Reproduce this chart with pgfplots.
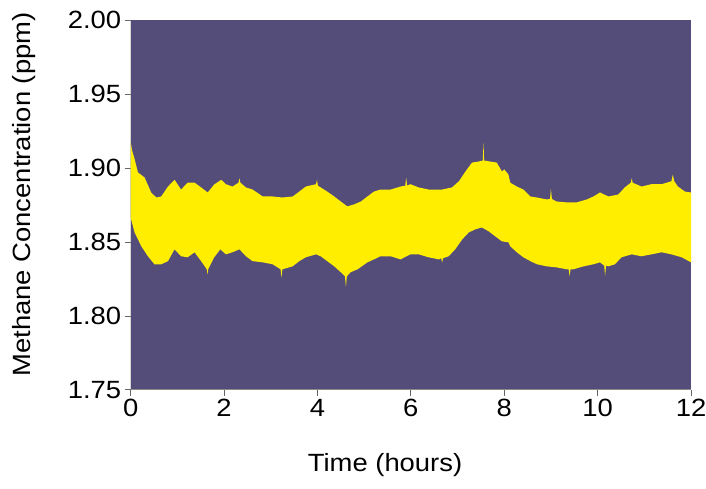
\documentclass[border=0pt]{standalone}
\usepackage{fontspec}
\setmainfont{Liberation Sans}[FakeStretch=1.1]
\usepackage{pgfplots}
\pgfplotsset{compat=1.18}
\definecolor{bg}{RGB}{84,77,122}
\definecolor{yel}{RGB}{255,238,0}
\begin{document}
\begin{tikzpicture}[font=\fontsize{25bp}{30bp}\selectfont]
\begin{axis}[name=ax,
  width=562bp, height=371bp, scale only axis,
  xmin=0, xmax=12, ymin=1.75, ymax=2.00,
  xtick={0,2,4,6,8,10,12},
  ytick={1.75,1.80,1.85,1.90,1.95,2.00},
  xtick pos=left, ytick pos=left,
  /pgf/number format/assume math mode=true,
  yticklabel style={/pgf/number format/.cd, fixed, fixed zerofill, precision=2},
  axis background/.style={fill=bg},
  axis line style={draw=none},
  tick align=outside, major tick length=6bp,
  tick style={draw=black!60, line width=0.8pt},
  xlabel={Time (hours)},
  ylabel={Methane Concentration (ppm)},
  xlabel style={at={(axis description cs:0.454,0)}, anchor=base, yshift=-82bp},
  ylabel style={at={(axis description cs:-0.1904,0.528)}, anchor=center},
]
\addplot[fill=yel, draw=none] coordinates {
(0.00,1.918) (0.03,1.912) (0.085,1.906) (0.157,1.897) (0.30,1.8935) (0.44,1.8834) (0.55,1.880) (0.655,1.8807) (0.80,1.8874) (0.94,1.892) (1.08,1.8854) (1.22,1.890) (1.37,1.890) (1.51,1.8868) (1.65,1.8834) (1.79,1.8888) (1.94,1.892) (2.04,1.889) (2.18,1.8874) (2.31,1.890) (2.33,1.893) (2.35,1.890) (2.47,1.8868) (2.61,1.8854) (2.83,1.8807) (3.04,1.8807) (3.25,1.880) (3.47,1.8807) (3.61,1.884) (3.75,1.8874) (3.97,1.889) (3.99,1.892) (4.01,1.888) (4.07,1.8868) (4.21,1.884) (4.36,1.8807) (4.50,1.8773) (4.64,1.874) (4.78,1.8753) (4.93,1.8773) (5.07,1.8807) (5.21,1.884) (5.35,1.8854) (5.57,1.8854) (5.78,1.8874) (5.88,1.888) (5.90,1.8935) (5.92,1.888) (5.99,1.889) (6.17,1.8868) (6.38,1.8854) (6.67,1.8854) (6.88,1.8868) (7.03,1.891) (7.17,1.8976) (7.31,1.9036) (7.45,1.9043) (7.54,1.905) (7.555,1.917) (7.57,1.905) (7.70,1.9043) (7.84,1.9036) (7.95,1.8976) (8.00,1.899) (8.09,1.8955) (8.13,1.890) (8.27,1.8874) (8.41,1.8854) (8.56,1.8807) (8.70,1.880) (8.91,1.8787) (8.98,1.879) (9.00,1.886) (9.02,1.879) (9.12,1.8773) (9.34,1.8767) (9.55,1.8767) (9.77,1.8787) (9.91,1.8807) (10.05,1.8834) (10.23,1.8807) (10.44,1.882) (10.58,1.8868) (10.71,1.890) (10.73,1.893) (10.75,1.890) (10.94,1.8874) (11.15,1.889) (11.37,1.889) (11.58,1.891) (11.61,1.8955) (11.64,1.891) (11.72,1.8874) (11.87,1.884) (12.00,1.8834)
(12.00,1.8362) (11.80,1.8396) (11.58,1.8416) (11.37,1.843) (11.15,1.8416) (10.94,1.8403) (10.73,1.8416) (10.51,1.8396) (10.37,1.8349) (10.23,1.8335) (10.18,1.834) (10.16,1.827) (10.14,1.834) (10.05,1.8362) (9.91,1.8349) (9.70,1.8335) (9.48,1.8315) (9.42,1.8315) (9.40,1.8268) (9.38,1.8315) (9.34,1.8315) (9.12,1.8328) (8.91,1.8335) (8.70,1.8349) (8.56,1.837) (8.41,1.8396) (8.27,1.843) (8.13,1.847) (8.09,1.8497) (7.95,1.8504) (7.81,1.8537) (7.67,1.8571) (7.52,1.8598) (7.38,1.8585) (7.24,1.8564) (7.10,1.8517) (6.95,1.845) (6.81,1.8403) (6.69,1.839) (6.67,1.836) (6.65,1.839) (6.60,1.8382) (6.38,1.8396) (6.17,1.8416) (5.99,1.8416) (5.78,1.8382) (5.57,1.8403) (5.35,1.8403) (5.21,1.8382) (5.07,1.8362) (4.86,1.8315) (4.71,1.8295) (4.63,1.8268) (4.61,1.8194) (4.59,1.8268) (4.50,1.8295) (4.36,1.8335) (4.21,1.837) (4.07,1.8403) (3.97,1.8416) (3.75,1.8396) (3.61,1.837) (3.47,1.8335) (3.25,1.8315) (3.23,1.826) (3.21,1.8315) (3.04,1.8349) (2.83,1.8362) (2.61,1.837) (2.47,1.8403) (2.33,1.845) (2.18,1.843) (2.04,1.8416) (1.92,1.845) (1.79,1.8396) (1.66,1.8315) (1.65,1.828) (1.63,1.8315) (1.51,1.837) (1.37,1.843) (1.22,1.8396) (1.08,1.8403) (0.94,1.845) (0.80,1.837) (0.655,1.8349) (0.51,1.8349) (0.37,1.8403) (0.23,1.847) (0.085,1.8564) (0.00,1.8665)
} -- cycle;
\draw[black!45, line width=0.8pt] (rel axis cs:0,1) -- (rel axis cs:0,0) -- (rel axis cs:1,0);
\end{axis}
\pgfresetboundingbox
\path ([xshift=-131bp,yshift=-99bp]ax.south west) rectangle ([xshift=15bp,yshift=20bp]ax.north east);
\end{tikzpicture}
\end{document}
